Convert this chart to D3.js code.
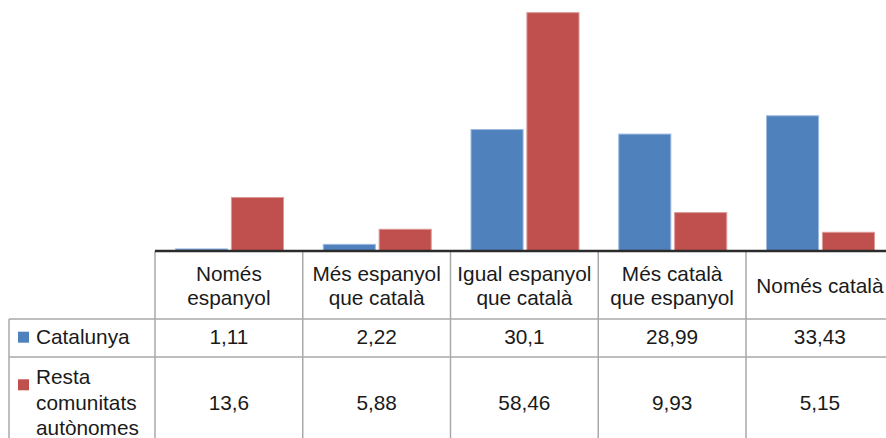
<!DOCTYPE html>
<html>
<head>
<meta charset="utf-8">
<script src="https://cdn.jsdelivr.net/npm/d3@7"></script>
<style>
  html, body { margin: 0; padding: 0; background: #fff; }
  svg { display: block; }
</style>
</head>
<body>
<svg id="chart" width="886" height="438"></svg>
<script>
const categories = ["Només espanyol", "Més espanyol que català", "Igual espanyol que català", "Més català que espanyol", "Només català"];
const categoryLines = [["Només", "espanyol"], ["Més espanyol", "que català"], ["Igual espanyol", "que català"], ["Més català", "que espanyol"], ["Només català"]];
const seriesNames = ["Catalunya", "Resta comunitats autònomes"];
const seriesLabelLines = [["Catalunya"], ["Resta", "comunitats", "autònomes"]];
const catalunya = [1.11, 2.22, 30.1, 28.99, 33.43];
const resta = [13.6, 5.88, 58.46, 9.93, 5.15];
const catalunyaLabels = ["1,11", "2,22", "30,1", "28,99", "33,43"];
const restaLabels = ["13,6", "5,88", "58,46", "9,93", "5,15"];
const colors = ["#4F81BD", "#C0504D"];
const strokeColors = ["#9dbbe0", "#dc9a98"];

const svg = d3.select("#chart");
const FONT = "'Liberation Sans', Arial, Helvetica, sans-serif";
const FS = 20.8;

const axisY = 251;
const left = 155, colW = 147.75;
const x = d3.scaleBand().domain(categories).range([left, left + colW * categories.length]);
const xs = d3.scaleBand().domain(seriesNames).range([20, 129]).paddingInner(0.05);
const y = d3.scaleLinear().domain([0, 60]).range([253, 253 - 60 * 4.12]);

const seriesData = [catalunya, resta];

// Bars
seriesData.forEach((vals, si) => {
  svg.append("g").selectAll("rect").data(vals).join("rect")
    .attr("x", (d, i) => x(categories[i]) + xs(seriesNames[si]) + 0.5)
    .attr("y", d => y(d) + 0.5)
    .attr("width", xs.bandwidth() - 1)
    .attr("height", d => Math.max(0, axisY - y(d) - 0.5))
    .attr("fill", colors[si])
    .attr("stroke", strokeColors[si])
    .attr("stroke-width", 1);
});

// Table grid
const grid = svg.append("g").attr("stroke", "#a9a9a9").attr("stroke-width", 1.5);
const row1Top = 319, row2Top = 357, bottom = 438;
d3.range(categories.length + 1).forEach(i => {
  const xx = left + i * colW;
  grid.append("line").attr("x1", xx).attr("x2", xx).attr("y1", axisY).attr("y2", bottom);
});
grid.append("line").attr("x1", 9).attr("x2", 9).attr("y1", row1Top).attr("y2", bottom);
[row1Top, row2Top].forEach(yy => {
  grid.append("line").attr("x1", 9).attr("x2", 886).attr("y1", yy).attr("y2", yy);
});

// Axis line
svg.append("line").attr("x1", left).attr("x2", 886).attr("y1", axisY).attr("y2", axisY)
  .attr("stroke", "#2b2b2b").attr("stroke-width", 2.6);

const txt = svg.append("g").attr("font-family", FONT).attr("font-size", FS).attr("fill", "#1a1a1a");

// Header labels
const headerCenter = 285.5, lh = 24;
categories.forEach((c, i) => {
  const lines = categoryLines[i];
  const cx = x(c) + colW / 2;
  lines.forEach((ln, j) => {
    txt.append("text").attr("x", cx)
      .attr("y", headerCenter + (j - (lines.length - 1) / 2) * lh + 7.2)
      .attr("text-anchor", "middle").text(ln);
  });
});

// Value rows
const rowBaselines = [344.3, 410];
[catalunyaLabels, restaLabels].forEach((labels, si) => {
  labels.forEach((lab, i) => {
    txt.append("text").attr("x", x(categories[i]) + colW / 2).attr("y", rowBaselines[si])
      .attr("text-anchor", "middle").text(lab);
  });
});

// Legend cells
const legendFirstBaseline = [344.3, 384];
const squareTop = [331.7, 379.3];
seriesNames.forEach((s, si) => {
  svg.append("rect").attr("x", 18).attr("y", squareTop[si]).attr("width", 11).attr("height", 11)
    .attr("fill", colors[si]);
  seriesLabelLines[si].forEach((ln, j) => {
    txt.append("text").attr("x", 36).attr("y", legendFirstBaseline[si] + j * 25.5).text(ln);
  });
});
</script>
</body>
</html>
